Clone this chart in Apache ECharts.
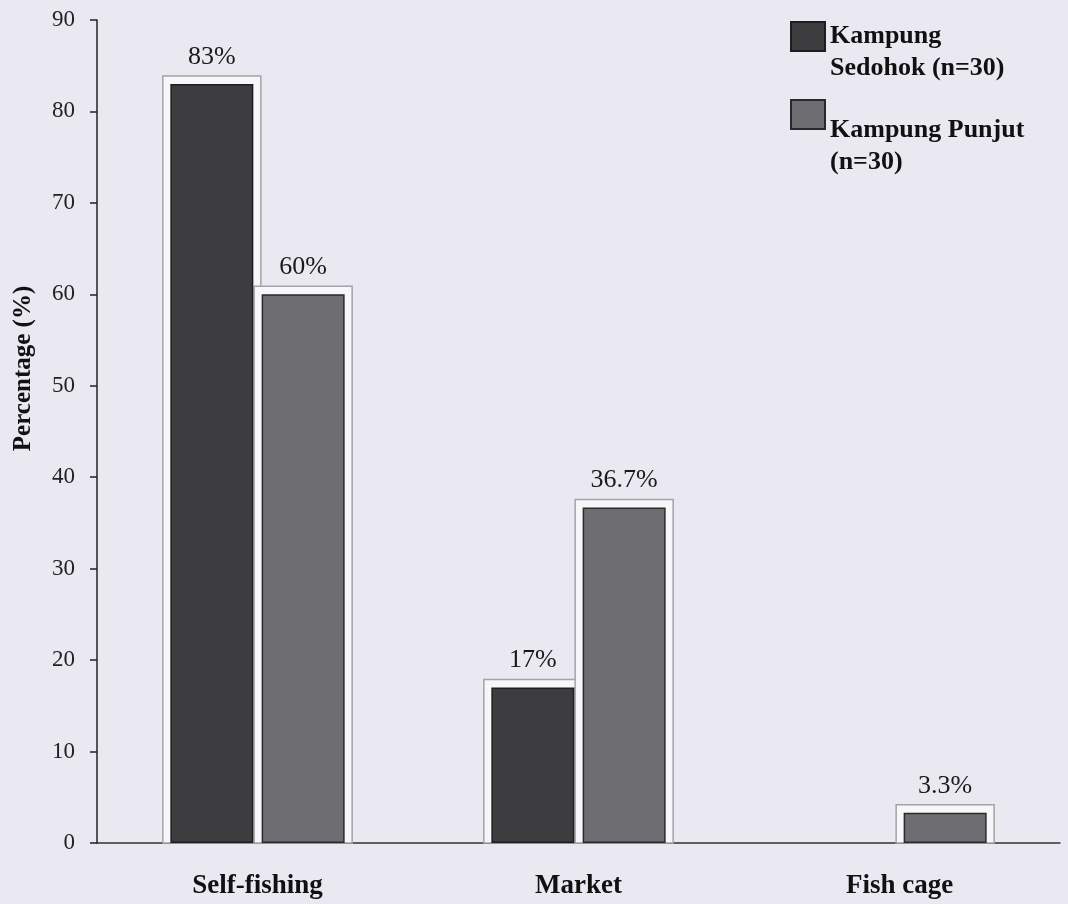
<!DOCTYPE html>
<html>
<head>
<meta charset="utf-8">
<title>Fish source by village</title>
<script src="https://cdn.jsdelivr.net/npm/echarts@6/dist/echarts.min.js"></script>
<style>
  html, body { margin: 0; padding: 0; background: #eae9f2; }
  #chart { width: 1068px; height: 904px; }
</style>
</head>
<body>
<div id="chart"></div>
<script>
const categories = ['Self-fishing', 'Market', 'Fish cage'];
const sedohok = [83, 17, 0];
const punjut = [60, 36.7, 3.3];
const seriesNames = ['Kampung\nSedohok (n=30)', 'Kampung Punjut\n(n=30)'];
const yTicks = { min: 0, max: 90, interval: 10 };

const serif = "'Liberation Serif', 'Times New Roman', serif";
const BAR_W = 83;
const GAP = 8.3;

function frameItem(side) {
    // white box with grey outline drawn behind each bar
    return function (params, api) {
        const val = api.value(1);
        if (!(val > 0)) return null;
        const top = api.coord([api.value(0), val]);
        const base = api.coord([api.value(0), 0]);
        const cx = top[0] + side * (BAR_W + GAP) / 2;
        return {
            type: 'rect',
            shape: { x: cx - 49, y: top[1] - 8, width: 98, height: base[1] - top[1] + 8 },
            style: { fill: '#f7f7fa', stroke: '#a3a3a8', lineWidth: 1.5 }
        };
    };
}

// zero values get no outline so nothing is drawn on the axis
function barData(values) {
    return values.map(v => (v > 0 ? v : { value: v, itemStyle: { borderWidth: 0 } }));
}

const chart = echarts.init(document.getElementById('chart'));

const legendText = {
    fontFamily: serif,
    fontWeight: 'bold',
    fontSize: 26,
    lineHeight: 32,
    color: '#111'
};

const valueLabel = {
    show: true,
    position: 'top',
    distance: 14,
    fontFamily: serif,
    fontSize: 26,
    color: '#1a1a1a',
    formatter: p => (p.value > 0 ? p.value + '%' : '')
};

chart.setOption({
    backgroundColor: '#eae9f2',
    animation: false,
    grid: { left: 97, right: 8, top: 20, bottom: 61 },
    legend: [
        {
            data: [seriesNames[0]],
            left: 790,
            top: -11.5,
            padding: 0,
            itemWidth: 34,
            itemHeight: 29,
            icon: 'rect',
            formatter: name => '\n' + name,
            textStyle: legendText
        },
        {
            data: [seriesNames[1]],
            left: 790,
            top: 50.5,
            padding: 0,
            itemWidth: 34,
            itemHeight: 29,
            icon: 'rect',
            formatter: name => '\n\n' + name,
            textStyle: legendText
        }
    ],
    xAxis: {
        type: 'category',
        data: categories,
        axisTick: { show: false },
        axisLine: { lineStyle: { color: '#333', width: 1.5 } },
        axisLabel: {
            margin: 30,
            fontFamily: serif,
            fontWeight: 'bold',
            fontSize: 27,
            color: '#111'
        }
    },
    yAxis: {
        type: 'value',
        min: yTicks.min,
        max: yTicks.max,
        interval: yTicks.interval,
        name: 'Percentage (%)',
        nameLocation: 'middle',
        nameGap: 61,
        nameTextStyle: {
            fontFamily: serif,
            fontWeight: 'bold',
            fontSize: 25,
            color: '#111',
            padding: [0, 0, 0, 126]
        },
        splitLine: { show: false },
        axisLine: { show: true, lineStyle: { color: '#222', width: 1.5 } },
        axisTick: { show: true, length: 7, lineStyle: { color: '#222', width: 1.5 } },
        axisLabel: { margin: 22, fontFamily: serif, fontSize: 23, color: '#222' }
    },
    series: [
        {
            name: 'frame-sedohok',
            type: 'custom',
            z: 1,
            silent: true,
            renderItem: frameItem(-1),
            data: sedohok.map((v, i) => [i, v])
        },
        {
            name: 'frame-punjut',
            type: 'custom',
            z: 1,
            silent: true,
            renderItem: frameItem(1),
            data: punjut.map((v, i) => [i, v])
        },
        {
            name: seriesNames[0],
            type: 'bar',
            z: 3,
            data: barData(sedohok),
            barWidth: BAR_W,
            barGap: '10%',
            itemStyle: { color: '#3d3d40', borderColor: '#1e1e20', borderWidth: 1.5 },
            label: valueLabel
        },
        {
            name: seriesNames[1],
            type: 'bar',
            z: 3,
            data: barData(punjut),
            barWidth: BAR_W,
            barGap: '10%',
            itemStyle: { color: '#6e6d72', borderColor: '#2a2a2c', borderWidth: 1.5 },
            label: valueLabel
        }
    ]
});
</script>
</body>
</html>
